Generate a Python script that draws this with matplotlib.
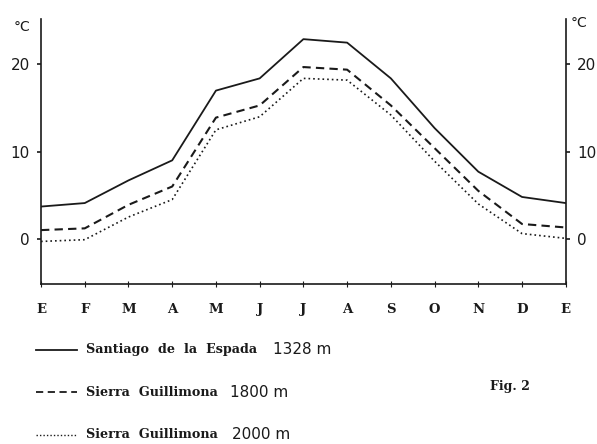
import matplotlib
matplotlib.use("Agg")
import matplotlib.pyplot as plt
from matplotlib.lines import Line2D

# months (E = Enero ... E again at the end)
months = ["E", "F", "M", "A", "M", "J", "J", "A", "S", "O", "N", "D", "E"]

# mean monthly temperature, degrees C
santiago_1328 = [3.7, 4.1, 6.7, 9.0, 17.0, 18.4, 22.9, 22.5, 18.4, 12.7, 7.7, 4.8, 4.1]
guillimona_1800 = [1.0, 1.2, 3.9, 6.0, 13.9, 15.3, 19.7, 19.4, 15.3, 10.4, 5.5, 1.7, 1.3]
guillimona_2000 = [-0.3, -0.1, 2.5, 4.5, 12.5, 14.0, 18.4, 18.2, 14.2, 8.9, 4.0, 0.6, 0.05]

yticks = [0, 10, 20]

fig = plt.figure(figsize=(5.97, 4.44), dpi=100)
ax = fig.add_axes([0.0687, 0.36, 0.879, 0.597])

x = range(len(months))
ink = "#1a1a1a"
ax.plot(x, santiago_1328, color=ink, lw=1.3, ls="-")
ax.plot(x, guillimona_1800, color=ink, lw=1.5, ls=(0, (4, 2.5)))
ax.plot(x, guillimona_2000, color=ink, lw=1.2, ls=(0, (1, 1.8)))

ax.set_xlim(0, len(months) - 1)
ax.set_ylim(-5.2, 25.2)
ax.spines["top"].set_visible(False)
for s in ["left", "right", "bottom"]:
    ax.spines[s].set_color(ink)
    ax.spines[s].set_linewidth(1.2)

ax.set_xticks(list(x))
ax.set_xticklabels(months, family="DejaVu Serif", fontweight="bold", fontsize=9.5)
ax.tick_params(axis="x", direction="inout", length=5, pad=11, colors=ink)

ax.set_yticks(yticks)
ax.set_yticklabels([str(v) for v in yticks], fontsize=11)
ax.tick_params(axis="y", direction="out", length=3, width=1.2, colors=ink,
               right=True, labelright=True, pad=5)

fig.text(0.022, 0.94, "°C", fontsize=10, color=ink, ha="left", va="center")
fig.text(0.955, 0.948, "°C", fontsize=10, color=ink, ha="left", va="center")

# legend, drawn underneath the chart
legend_rows = [
    ("-", 1.3, "Santiago  de  la  Espada", "1328 m", 0.212, 0.457),
    ((0, (4, 2.5)), 1.3, "Sierra  Guillimona", "1800 m", 0.116, 0.385),
    ((0, (1, 1.5)), 1.0, "Sierra  Guillimona", "2000 m", 0.021, 0.389),
]
for ls, lw, name, alt, yy, xalt in legend_rows:
    fig.add_artist(Line2D([0.060, 0.129], [yy, yy], color=ink, ls=ls, lw=lw,
                          transform=fig.transFigure))
    fig.text(0.144, yy, name, family="DejaVu Serif", fontweight="bold",
             fontsize=9.2, color=ink, va="center")
    fig.text(xalt, yy, alt, family=["Liberation Sans Narrow", "DejaVu Sans"],
             fontsize=11, color=ink, va="center")

fig.text(0.821, 0.129, "Fig. 2", family="DejaVu Serif", fontweight="bold",
         fontsize=9, color=ink, va="center")

fig.savefig("out.png", dpi=100)
